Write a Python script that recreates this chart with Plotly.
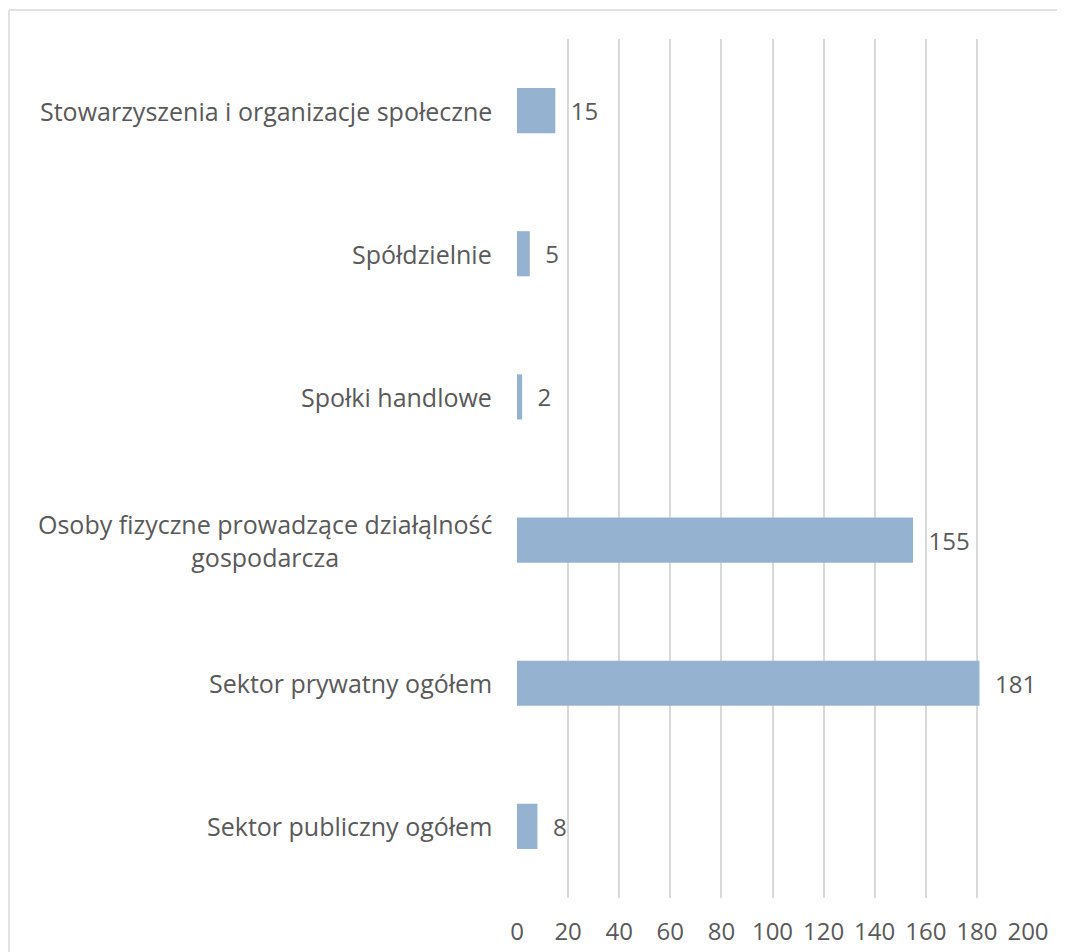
import plotly.graph_objects as go

categories = [
    "Sektor publiczny ogółem",
    "Sektor prywatny ogółem",
    "Osoby fizyczne prowadzące działąlność<br>gospodarcza",
    "Społki handlowe",
    "Spółdzielnie",
    "Stowarzyszenia i organizacje społeczne",
]
values = [8, 181, 155, 2, 5, 15]
x_ticks = list(range(0, 201, 20))

FONT = "Open Sans"
TXT = "#595959"
BAR = "#95b3d0"
GRID = "#d9d9d9"

OFF = 8  # page offset of the figure
W, H = 1065 - OFF, 952 - OFF
L = 517 - OFF
T = 39 - OFF
R = W - (1028 - OFF)
B = H - (898 - OFF)
pw = W - L - R
ph = H - T - B

fig = go.Figure(go.Bar(
    y=categories, x=values, orientation="h",
    marker=dict(color=BAR, line=dict(width=0)),
    text=[f"  {v}" for v in values], textposition="outside",
    textfont=dict(family=FONT, size=24, color=TXT),
    cliponaxis=False,
))

for c in categories:
    fig.add_annotation(x=0, xref="paper", y=c, yref="y", text=c,
                       xanchor="right", yanchor="middle", align="center",
                       xshift=-23, showarrow=False,
                       font=dict(family=FONT, size=25, color=TXT))

bx = (9 - OFF - L) / pw
by = 1 + (T - (10 - OFF)) / ph
fig.add_shape(type="line", xref="paper", yref="paper",
              x0=bx, x1=bx, y0=-0.5, y1=by,
              line=dict(color=GRID, width=1.5))
fig.add_shape(type="line", xref="paper", yref="paper",
              x0=bx, x1=1.5, y0=by, y1=by,
              line=dict(color=GRID, width=1.5))

fig.update_layout(
    width=W, height=H,
    margin=dict(l=L, r=R, t=T, b=B),
    plot_bgcolor="white", paper_bgcolor="white",
    bargap=0.685, showlegend=False,
    xaxis=dict(range=[0, 200], tickvals=x_ticks, showgrid=True, gridcolor=GRID,
               gridwidth=1.5, zeroline=False, showline=False, automargin=False,
               ticks="outside", ticklen=12, tickcolor="rgba(0,0,0,0)",
               tickfont=dict(family=FONT, size=24, color=TXT)),
    yaxis=dict(categoryorder="array", categoryarray=categories, automargin=False,
               showticklabels=False, showgrid=False, zeroline=False, showline=False),
)

fig.write_html("out.html")
